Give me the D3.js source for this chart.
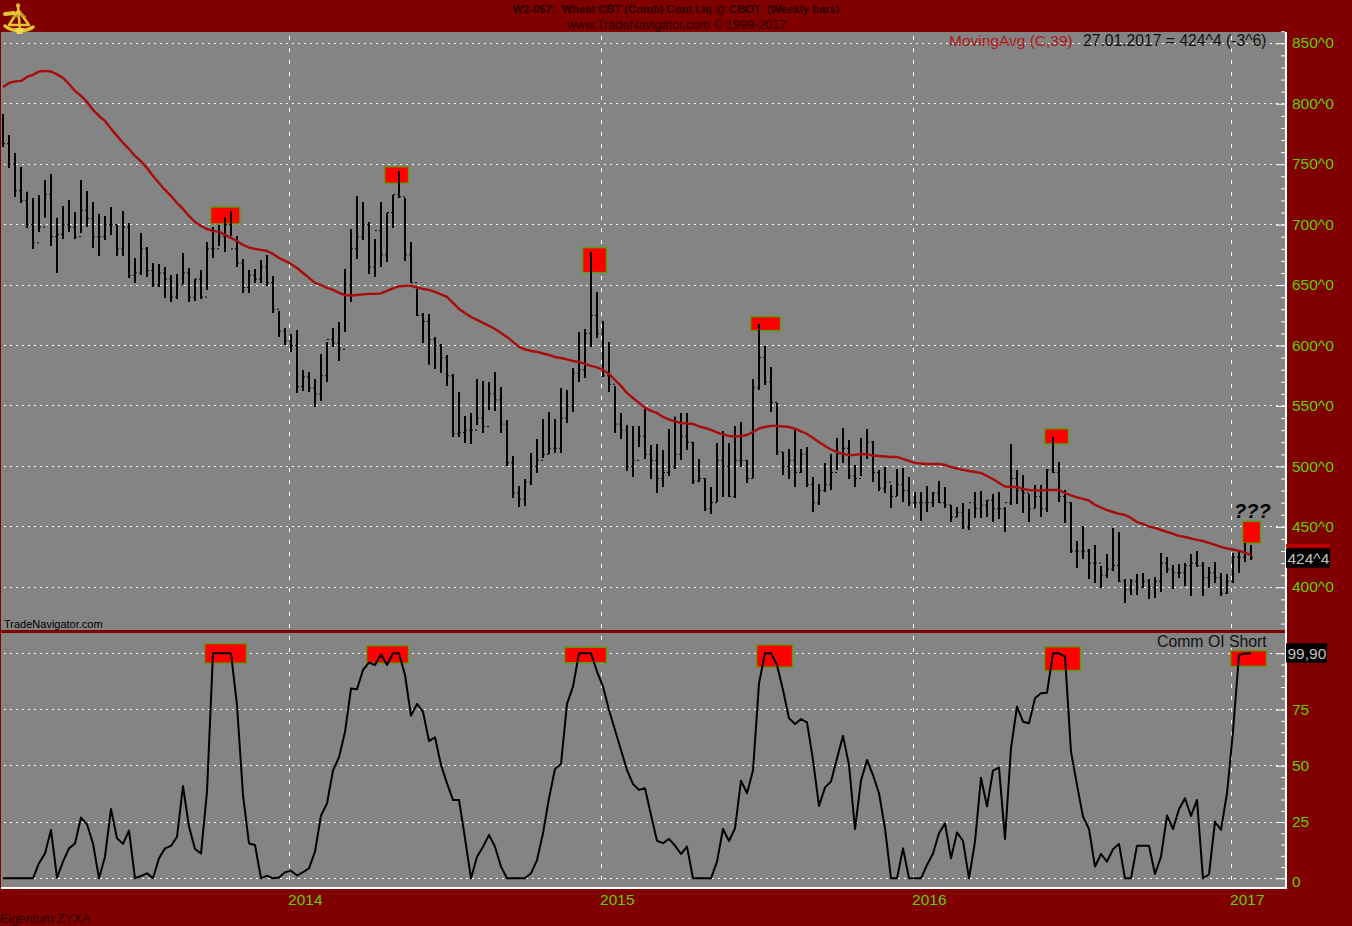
<!DOCTYPE html>
<html><head><meta charset="utf-8">
<script src="https://cdn.jsdelivr.net/npm/d3@7/dist/d3.min.js"></script>
<style>html,body{margin:0;padding:0;background:#800000;overflow:hidden}svg{display:block}text{font-family:"Liberation Sans",Arial,sans-serif}</style>
</head><body><svg id="c" width="1352" height="926"></svg>
<script>
const highs=[791.6,774.2,759.3,747.7,727.1,722.1,724.6,737,741.9,705.6,715.5,720.4,710.5,737,727.9,718.8,708.9,707.2,714.6,699.8,711.3,701.4,672.4,693.1,681.5,668.3,667.5,665,658.4,659.2,676.6,664.2,655.1,662.5,685.7,698.1,699.8,706.4,711.3,690.7,671.6,662.5,663.4,670.8,674.9,657.6,628.6,614.5,609.6,612.9,579.8,578.1,572.3,593,603,614.5,619.5,663.4,696.4,723.7,718.8,702.2,688.2,718.8,709.7,724.6,744.4,722.1,685.7,646.8,627,626.1,607,601.3,592.2,576.5,561.6,541.7,544.2,572.3,570.7,569.9,578.1,565.7,538.4,508.6,483.8,489.6,511.1,522.7,539.2,545,539.2,564.9,563.2,581.4,611.2,613.7,677.4,644.3,620.3,603,566.6,544.2,534.3,533.5,533.5,548.4,517.8,518.6,513.6,531,541,544.2,544.2,520.2,506.2,490.4,483,519.4,529.3,519.4,533.5,536.8,505.3,572.3,617.8,599.7,582.3,552.5,511.9,514.4,530.2,514.4,516.1,491.3,485.5,502.9,510.3,523.5,531.8,521.9,501.2,523.5,531,521,497.1,499.6,484.7,497.9,498.7,491.3,478.9,478.9,483.8,478.9,487.9,483,468.1,466.5,469.8,464.8,478.9,479.7,472.2,477.2,478.9,466.5,518.6,497.1,492.9,477.2,484.7,484.7,497.9,524.4,503.7,480.5,470.6,438.3,450.7,431.7,435,417.6,427.6,449.1,445.8,406.9,406.9,411,411.9,406.9,408.5,428.4,425.1,418.5,419.3,420.1,427.6,430.1,421,416.8,421,411.9,411,428.4,430.1,436.7,435];
const lows=[764.3,746.9,722.9,717.9,697.3,679.9,694,705.6,682.4,660,688.2,694,688.2,693.1,698.1,680.7,674.1,687.3,691.5,674.1,674.1,655.9,651.8,658.4,656.7,648.5,648.5,639.4,636.1,638.5,650.9,636.1,636.9,638.5,646,672.4,682.4,677.4,690.7,665,643.5,643.5,651.8,651.8,649.3,627,607,600.5,594.7,560.8,562.4,561.6,549.2,554.2,569.9,598.8,587.2,611.2,636.1,671.6,687.3,659.2,656.7,665,669.1,697.3,722.1,670,651.8,624.5,602.1,584,580.6,577.3,566.6,524.4,524.4,519.4,518.6,534.3,527.7,546.7,545.9,527.7,500.4,473.9,466.5,467.3,484.7,494.6,507,510.3,511.1,511.1,535.9,545,569.9,573.2,598.8,606.3,574,561.6,527.7,522.7,496.2,491.3,516.1,506.2,489.6,478,483,492.1,497.9,505.3,513.6,485.5,487.1,463.2,460.7,470.6,474.7,474.7,473.9,499.6,486.3,490.4,563.2,567.4,545,509.5,492.9,489.6,483,494.6,483,462.3,468.1,478.9,480.5,497.1,502.9,489.6,483,492.1,506.2,487.1,479.7,478,465.6,475.6,470.6,467.3,465.6,454.9,462.3,466.5,469.8,465.6,454,458.2,448.3,447.4,457.4,457.4,458.2,454,456.5,445.8,468.1,468.9,461.5,454,465.6,458.2,462.3,494.6,470.6,453.2,428.4,416,423.4,406.9,403.6,399.4,407.7,413.5,404.4,387,393.6,393.6,399.4,390.3,391.2,396.1,411.9,398.6,407.7,401.1,392.8,416.8,392.8,399.4,403.6,392.8,394.5,403.6,411.9,421,422.6];
const closes=[767,750,728,720,700,685,698,725,690,692,700,698,690,712,705,690,690,700,700,680,698,658,660,680,662,650,660,655,640,650,660,640,655,640,680,680,690,700,680,668,648,658,655,665,652,630,612,604,600,566,574,565,560,575,605,602,597,650,680,690,700,665,695,675,710,725,723,675,652,625,620,605,600,590,575,527,528,530,530,540,533,560,555,535,503,478,473,487,500,505,510,515,515,540,550,577,580,610,625,610,575,568,535,530,500,505,525,510,505,490,495,500,510,525,520,488,490,465,470,505,500,475,505,505,490,565,590,570,553,512,500,505,495,510,485,470,480,485,495,510,515,492,490,510,520,495,482,487,475,485,480,470,470,470,470,478,470,468,458,462,450,470,465,468,472,465,465,470,490,480,478,465,475,465,497,495,475,470,430,430,430,420,420,410,415,418,405,398,405,400,405,400,405,420,415,412,412,418,420,418,408,412,408,395,405,425,425,428,424.5];
const movingAvg=[813.9,817.2,818.5,818.9,822.2,823.9,826.7,827.2,826.7,824.3,821.4,816.4,810.6,806.5,801.5,794.9,789.9,785.8,779.2,773.4,767.6,762.6,756.8,752.3,746.9,740.3,734.5,728.7,723.8,717.9,713,707.2,702.2,698.9,696.4,694.8,694,691.5,689,686.5,683.2,681.1,679.9,679.1,678.2,675.8,672.4,670,667.5,664.2,660,655.9,651.8,650.1,647.6,646,643.5,641.8,641.4,641.8,642.3,642.7,642.7,643.1,645.2,647.2,648.9,649.3,649.3,648,646.8,646,644.3,642.3,640.2,635.2,630.3,627,623.6,621.2,618.7,616.2,613.7,610.4,607.1,603,598.8,596.8,595.5,594.7,593.4,592.2,590.5,589.7,588.5,587.2,586.4,584.8,583.1,581.9,579.8,576.5,571.5,566.6,560.8,556.6,552.5,548.4,545.9,544.2,540.9,538.8,537.2,535.9,535.5,535.1,533,531.8,530.2,528.1,526.4,525.2,524.8,525.2,526,528.5,531.4,532.6,533.5,533.5,533,532.6,531,528.9,526.9,523.5,520.2,516.9,514,511.9,510.3,509.5,509.5,510.3,509.9,509,508.6,508.2,507.8,507.8,506.2,504.5,502.9,502.4,502,502,502,501.2,499.5,498.3,497.1,496.2,495.4,494.6,492.1,489.6,486.3,483.4,483,483,481.3,480.5,480.1,480.1,480.5,480.5,480.5,478,476,474.3,473.1,471.8,468.1,466,463.9,462.3,460.7,459.8,457.4,454,452.4,450.3,449.1,447.4,445.8,444.1,442.5,441.6,440.4,439.2,438.3,436.7,435,433.4,432.1,431.3,430.1,428.8,426.7];
const commOI=[0,0,0,0,0,0,6.7,11,21.5,0.3,7.4,13.3,15.5,27,24,15.5,0,9.6,30.8,17.8,15.3,21.2,0,1,2.2,0,8.9,13.3,14.4,18.5,41,23,13,11,38.5,100,100,100,100,77,37,15.5,14.8,0,1.2,0,0.4,2.7,3.4,1.2,2.7,4.4,11.9,27.9,33.3,47.9,53.8,65,84.4,84,92.6,95.9,94.8,99.6,94.8,100,100,90.4,72.3,77.5,74,61,62.7,50.4,42.2,34.8,34.8,17.8,0,9.6,14,19.3,14,5.2,0,0,0,0,2.2,8.1,20,35.6,48.6,50.8,77.5,85.2,100,100,100,91.9,85.2,74.8,65.9,57,48.1,41.9,39.3,40,28.1,16.7,15.6,17.5,14.5,10.8,14.1,0,0,0,0,7.4,21.9,16.6,22.2,43.4,37.8,47.9,86.7,100,100,94.8,83.7,71.1,68.6,70.8,69.3,52.6,32.1,40.4,43,53.3,63.3,50.4,21.9,43.4,52.6,45.9,37.8,22.2,0,0,13.3,0,0,0,5.9,11,20,24.4,8.9,20.4,16.6,0,16.3,44.7,31.9,47.9,49.2,17.5,57.8,76.3,69.6,68.9,80,82.2,82.5,100,100,98.5,56.3,41.5,27.4,21.9,5.2,10.8,7.4,12.9,15.3,0,0,14.5,14.5,14.5,1.9,9.6,27.9,21.9,30.7,35.6,27.7,34.8,0,1.8,25.2,21.5,37.8,65.2,99.3,99.9,99.9];
const years=["2014","2015","2016","2017"];
const yearBars=[47.67,99.67,151.67,204.67];
const priceMajor=[850,800,750,700,650,600,550,500,450,400];
const priceMinor=[860,840,830,820,810,790,780,770,760,740,730,720,710,690,680,670,660,640,630,620,610,590,580,570,560,540,530,520,510,490,480,470,460,440,430,420,410,390,380,370];
const oiMajor=[100,75,50,25,0];
const oiMinor=[95,90,85,80,70,65,60,55,45,40,35,30,20,15,10,5];
const priceFlags=[[34.6,39.5,714.6,700.6],[63.6,67.6,748,734.2],[96.6,100.6,681,660.3],[124.6,129.6,623.9,612.3],[173.6,177.6,531.2,518.6],[206.6,209.6,454.6,436.4]];
const oiFlags=[[33.6,40.6,104.3,95.6],[60.6,67.6,103.4,95.6],[93.6,100.6,102.7,95.8],[125.6,131.6,103.8,93.8],[173.6,179.6,102.9,92.3],[204.6,210.6,101.2,94.2]];

const svg=d3.select("#c");
const MAROON="#800000",GREEN="#66cc00",DARK="#2a0000";
const x=d3.scaleLinear().domain([0,208]).range([3,1251]);
const yP=d3.scaleLinear().domain([400,850]).range([587.3,43.3]);
const yO=d3.scaleLinear().domain([0,100]).range([878.3,653.3]);
const L=1,R=1286,T=32,B=887;

svg.append("rect").attr("x",L).attr("y",T).attr("width",R-L).attr("height",B-T).attr("fill","#848484");

// grid
const grid=svg.append("g").attr("stroke","#fff").attr("fill","none");
grid.selectAll("line.h1").data(priceMajor).join("line").attr("x1",4).attr("x2",R)
  .attr("y1",d=>Math.floor(yP(d))+.5).attr("y2",d=>Math.floor(yP(d))+.5).attr("stroke-dasharray","2 4").attr("stroke-width",1);
grid.selectAll("line.h2").data(oiMajor).join("line").attr("x1",4).attr("x2",R)
  .attr("y1",d=>Math.floor(yO(d))+.5).attr("y2",d=>Math.floor(yO(d))+.5).attr("stroke-dasharray","2 4").attr("stroke-width",1);
grid.selectAll("line.v").data(yearBars).join("line").attr("x1",d=>Math.floor(x(d))+.5).attr("x2",d=>Math.floor(x(d))+.5)
  .attr("y1",T+4).attr("y2",B-2).attr("stroke-dasharray","4 8").attr("stroke-width",1);

// flags
function flags(data,y){
  svg.append("g").selectAll("rect").data(data).join("rect")
    .attr("x",d=>x(d[0])).attr("width",d=>x(d[1])-x(d[0]))
    .attr("y",d=>y(d[2])).attr("height",d=>y(d[3])-y(d[2]))
    .attr("fill","#ff0000").attr("stroke","#5f9a1a").attr("stroke-width",1.5);
}
flags(priceFlags,yP);flags(oiFlags,yO);

// bars
const bars=svg.append("g").attr("stroke","#000").attr("fill","none");
bars.selectAll("line.b").data(highs).join("line").attr("x1",(d,i)=>x(i)).attr("x2",(d,i)=>x(i))
  .attr("y1",d=>yP(d)).attr("y2",(d,i)=>yP(lows[i])).attr("stroke-width",2);
svg.append("g").attr("stroke","#000").selectAll("line").data(closes).join("line").attr("x1",(d,i)=>x(i)).attr("x2",(d,i)=>x(i)+2)
  .attr("y1",d=>yP(d)).attr("y2",d=>yP(d)).attr("stroke-width",1);
svg.append("g").attr("stroke","#000").selectAll("line").data(closes.slice(0,-1)).join("line")
  .attr("x1",(d,i)=>x(i+1)-2).attr("x2",(d,i)=>x(i+1))
  .attr("y1",d=>yP(d)).attr("y2",d=>yP(d)).attr("stroke-width",1);

// moving average
svg.append("path").datum(movingAvg).attr("fill","none").attr("stroke","#a80c0c").attr("stroke-width",2.4)
  .attr("stroke-linejoin","round").attr("d",d3.line().x((d,i)=>x(i)).y(d=>yP(d)));
// OI line
svg.append("path").datum(commOI).attr("fill","none").attr("stroke","#000").attr("stroke-width",2)
  .attr("stroke-linejoin","round").attr("d",d3.line().x((d,i)=>x(i)).y(d=>yO(d)));

// separator & frame
svg.append("rect").attr("x",0).attr("y",630).attr("width",R).attr("height",3).attr("fill",MAROON);
svg.append("rect").attr("x",0).attr("y",0).attr("width",1352).attr("height",T).attr("fill",MAROON);
svg.append("line").attr("x1",R).attr("x2",R).attr("y1",T).attr("y2",B+1).attr("stroke","#fff").attr("stroke-width",2);
svg.append("line").attr("x1",L).attr("x2",R+1).attr("y1",B+1).attr("y2",B+1).attr("stroke","#fff").attr("stroke-width",2);

// axes
function axis(scale,major,minor,fmt){
  const a=svg.append("g").attr("transform",`translate(${R-1},0)`)
    .call(d3.axisRight(scale).tickValues(major).tickSize(-9).tickPadding(7).tickFormat(fmt));
  a.select(".domain").remove();
  a.selectAll("line").attr("stroke","#fff").attr("stroke-width",1);
  a.selectAll("text").attr("fill",GREEN).attr("font-size",15.5).attr("font-family",'"Liberation Sans",Arial,sans-serif').attr("dy","0.3em");
  const b=svg.append("g").attr("transform",`translate(${R-1},0)`)
    .call(d3.axisRight(scale).tickValues(minor).tickSize(-4).tickFormat(""));
  b.select(".domain").remove();
  b.selectAll("line").attr("stroke","#fff").attr("stroke-width",1);
  return a;
}
axis(yP,priceMajor,priceMinor,d=>d+"^0");
const oiAxis=axis(yO,oiMajor,oiMinor,d=>d===100?"":d);
oiAxis.selectAll(".tick text").filter(d=>d===0).attr("dy","0.5em");

// year labels
svg.append("g").selectAll("text").data(years).join("text").attr("x",(d,i)=>x(yearBars[i])-1).attr("y",905)
  .attr("fill",GREEN).attr("font-size",15.5).text(d=>d);

// value boxes
svg.append("rect").attr("x",R).attr("y",544).attr("width",44).attr("height",3.6).attr("fill","#c00000");
svg.append("rect").attr("x",R).attr("y",548.3).attr("width",44).attr("height",19.4).attr("fill","#000");
svg.append("text").attr("x",R+1.5).attr("y",563.5).attr("fill","#c0c0c0").attr("font-size",15.5).text("424^4");
svg.append("rect").attr("x",R).attr("y",643.3).attr("width",41).attr("height",19.4).attr("fill","#000");
svg.append("text").attr("x",R+1.5).attr("y",658.5).attr("fill","#c0c0c0").attr("font-size",15.5).text("99,90");

// texts
const t=(s,x0,y0,size,fill,extra={})=>{const e=svg.append("text").attr("x",x0).attr("y",y0).attr("font-size",size).attr("fill",fill).text(s);
  Object.entries(extra).forEach(([k,v])=>e.attr(k,v));return e;};
t("W2-057:  Wheat CBT (Comb) Cont Liq @ CBOT  (Weekly bars)",676,13,11.2,DARK,{"text-anchor":"middle","font-weight":"bold","xml:space":"preserve"});
t("www.TradeNavigator.com \u00a9 1999-2017",676.5,28.5,12.6,DARK,{"text-anchor":"middle"});
t("MovingAvg (C,39)",949,46,15.5,"#b01818");
t("27.01.2017 = 424^4 (-3^6)",1083,46,15.7,"#111");
t("TradeNavigator.com",4,628,11,"#000");
t("Comm OI Short",1157,647,15.8,"#111");
t("Eigentum ZYXA",0,923,12.7,DARK);
t("???",1234,518,20,"#000",{"font-style":"italic","font-weight":"bold"});

// sextant logo
const logo=svg.append("g").attr("transform","translate(2,3)").attr("fill","none").attr("stroke-linecap","round").attr("stroke-linejoin","round");
logo.append("path").attr("stroke","#e6c535").attr("stroke-width",3.5).attr("d","M3 23C10 29 24 29 31 24");
logo.append("path").attr("stroke","#e6c535").attr("stroke-width",2.5).attr("d","M16 2L18 28M16 8L7 22M17 8L27 22M7 22L27 22");
logo.append("path").attr("stroke","#e6c535").attr("stroke-width",4).attr("d","M3 11L12 10");
logo.append("path").attr("stroke","#b8961e").attr("stroke-width",2).attr("d","M11 14L16 13M19 10L23 14");
logo.append("circle").attr("cx",16).attr("cy",2.5).attr("r",2.2).attr("fill","#d4b430");
logo.append("path").attr("fill","#f0d848").attr("d","M13 25L22 25L20 31L15 31Z");
</script></body></html>
